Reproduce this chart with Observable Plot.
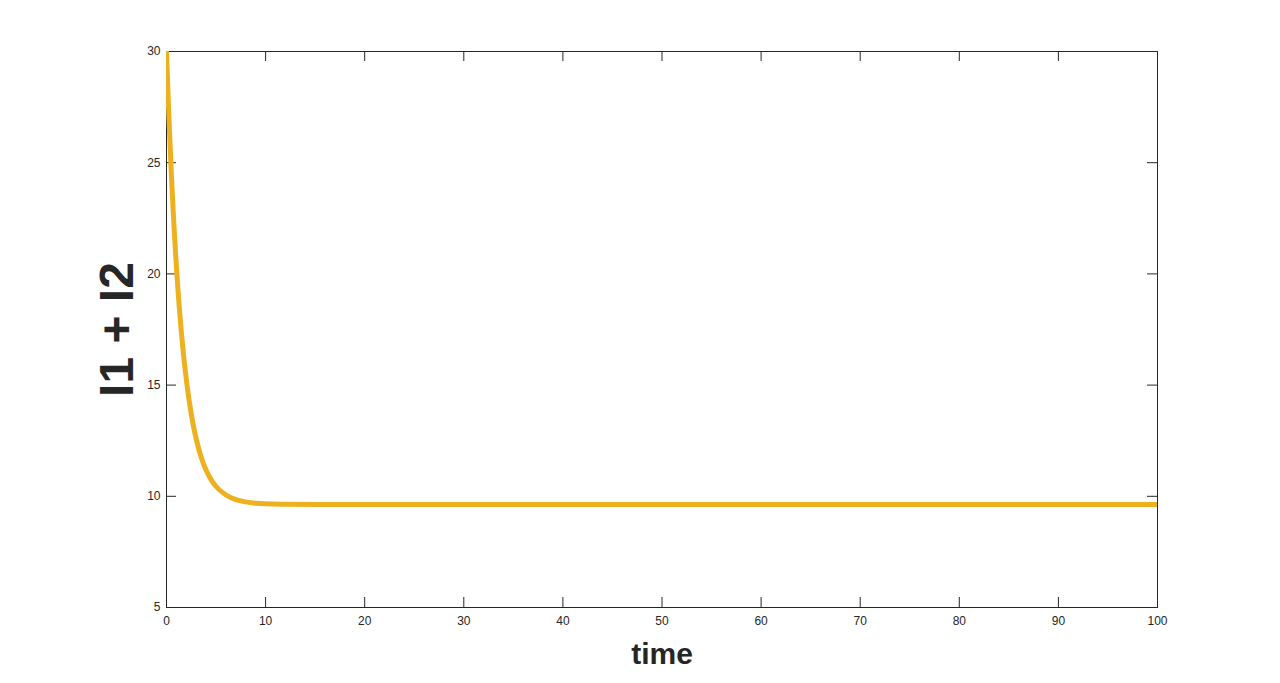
<!DOCTYPE html>
<html>
<head>
<meta charset="utf-8">
<script src="https://cdn.jsdelivr.net/npm/d3@7"></script>
<script src="https://cdn.jsdelivr.net/npm/@observablehq/plot@0.6"></script>
<style>
  html, body { margin: 0; padding: 0; background: #fff; overflow: hidden; }
  #chart svg { display: block; }
</style>
</head>
<body>
<div id="chart"></div>
<script>
// Data
const time = [0, 0.25, 0.5, 0.75, 1, 1.5, 2, 2.5, 3, 3.5, 4, 4.5, 5, 6, 7, 8, 9, 10, 12, 15, 20, 30, 40, 50, 60, 70, 80, 90, 100];
const infected = [30, 26.97, 24.38, 22.19, 20.32, 17.37, 15.24, 13.69, 12.57, 11.76, 11.17, 10.75, 10.44, 10.06, 9.85, 9.75, 9.69, 9.66, 9.64, 9.63, 9.63, 9.63, 9.63, 9.63, 9.63, 9.63, 9.63, 9.63, 9.63];
const xTicks = [0, 10, 20, 30, 40, 50, 60, 70, 80, 90, 100];
const yTicks = [5, 10, 15, 20, 25, 30];
const xLabel = "time";
const yLabel = "I1 + I2";

const data = time.map((t, i) => ({t, v: infected[i]}));

const W = 1280, H = 683;
const mL = 166, mR = 123, mT = 51, mB = 76;
const plotW = W - mL - mR, plotH = H - mT - mB;
const tickLen = 10;
const axisColor = "#262626";
const font = "Liberation Sans, Arial, Helvetica, sans-serif";

const chart = Plot.plot({
  width: W,
  height: H,
  marginLeft: mL,
  marginRight: mR,
  marginTop: mT,
  marginBottom: mB,
  style: {fontFamily: font, background: "#fff", color: axisColor},
  x: {domain: [0, 100]},
  y: {domain: [5, 30]},
  marks: [
    Plot.frame({stroke: axisColor, strokeWidth: 1}),
    // inward ticks: bottom, top
    Plot.tickX(xTicks, {x: d => d, insetTop: plotH - tickLen, stroke: axisColor, strokeWidth: 1}),
    Plot.tickX(xTicks, {x: d => d, insetBottom: plotH - tickLen, stroke: axisColor, strokeWidth: 1}),
    // inward ticks: left, right
    Plot.tickY(yTicks, {y: d => d, insetRight: plotW - tickLen, stroke: axisColor, strokeWidth: 1}),
    Plot.tickY(yTicks, {y: d => d, insetLeft: plotW - tickLen, stroke: axisColor, strokeWidth: 1}),
    Plot.axisX(xTicks, {anchor: "bottom", tickSize: 0, tickPadding: 9, fontSize: 12, label: null, fill: axisColor}),
    Plot.axisY(yTicks, {anchor: "left", tickSize: 0, tickPadding: 6, fontSize: 12, label: null, fill: axisColor}),
    Plot.line(data, {x: "t", y: "v", stroke: "#EDB120", strokeWidth: 5, clip: true, curve: "monotone-x"}),
    Plot.text([xLabel], {text: d => d, frameAnchor: "bottom", dy: 56, lineAnchor: "bottom", fontSize: 30, fontWeight: "bold", fill: axisColor}),
    Plot.text([yLabel], {text: d => d, frameAnchor: "left", dx: -34, rotate: -90, textAnchor: "middle", lineAnchor: "bottom", fontSize: 48, fontWeight: "bold", fill: axisColor})
  ]
});
document.getElementById("chart").appendChild(chart);
</script>
</body>
</html>
